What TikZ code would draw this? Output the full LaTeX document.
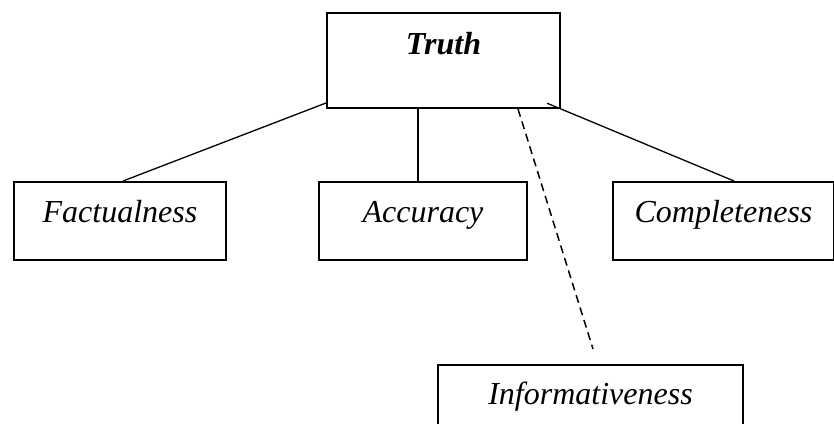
\documentclass[tikz,border=0pt]{standalone}
\usepackage{fontspec}
\setmainfont{Liberation Serif}
\begin{document}
\begin{tikzpicture}[x=1pt, y=-1pt]
       \tikzset{box/.style={draw, line width=2pt, anchor=north west, inner xsep=0pt, inner ysep=0pt,
                            text height=40pt, text depth=38pt, font=\fontsize{32}{38}\selectfont\itshape},
                link/.style={line width=1.3pt},
                hint/.style={line width=1.5pt, dash pattern=on 8pt off 5pt}}
       \useasboundingbox (0,0) rectangle (834,423);

       \node[box, minimum width=233pt, text height=41pt, text depth=54pt, font=\fontsize{32}{38}\selectfont\bfseries\itshape] (truth) at (326,12) {Truth};
       \node[box, minimum width=212pt] (fact) at (13,181) {Factualness};
       \node[box, minimum width=208pt] (accu) at (318,181) {Accuracy};
       \node[box, minimum width=221pt] (comp) at (612,181) {Completeness};
       \node[box, minimum width=305pt, text height=39pt, text depth=70pt] (info) at (437,364) {Informativeness};

       \coordinate (a) at ([xshift=-5pt]accu.north);
       \coordinate (d) at ([xshift=74.5pt]truth.south);
       \coordinate (e) at ([xshift=2.5pt, yshift=15pt]info.north);

       \draw[link] ([xshift=3pt]fact.north) -- ([yshift=6pt]truth.south west);
       \draw[link] (a) -- (a |- truth.south);
       \draw[link, shorten >=-15pt] ([xshift=10.5pt]comp.north) -- (truth.south east);
       \draw[hint] (d) -- (e);
   \end{tikzpicture}
\end{document}
